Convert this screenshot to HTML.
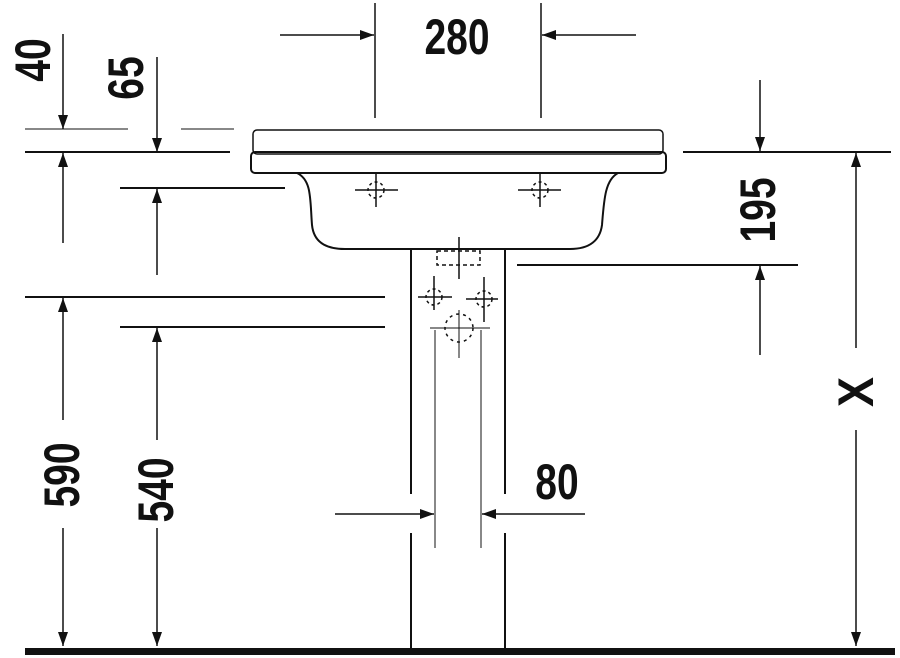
<!DOCTYPE html>
<html><head><style>body{margin:0;background:#fff}svg{display:block}
text{font-family:"Liberation Sans",sans-serif;font-weight:bold;font-size:50px;fill:#111}</style></head>
<body>
<svg width="900" height="658" viewBox="0 0 900 658" xmlns="http://www.w3.org/2000/svg">
<defs>
<marker id="a" markerWidth="14" markerHeight="10" refX="14" refY="5" orient="auto" markerUnits="userSpaceOnUse"><path d="M0,0 L14,5 L0,10 Z" fill="#111"/></marker>
</defs>
<g stroke="#111" fill="none" stroke-width="1.5">
<line x1="375" y1="3" x2="375" y2="118"/>
<line x1="541" y1="3" x2="541" y2="118"/>
<line x1="280" y1="35" x2="374" y2="35" marker-end="url(#a)"/>
<line x1="636" y1="35" x2="542" y2="35" marker-end="url(#a)"/>
<line x1="25" y1="129" x2="128" y2="129" stroke-width="1"/>
<line x1="181" y1="129" x2="234" y2="129" stroke-width="1"/>
<line x1="25" y1="152" x2="230" y2="152" stroke-width="2"/>
<line x1="63" y1="34" x2="63" y2="129" marker-end="url(#a)"/>
<line x1="63" y1="243" x2="63" y2="153" marker-end="url(#a)"/>
<line x1="157" y1="57" x2="157" y2="152" marker-end="url(#a)"/>
<line x1="120" y1="188" x2="285" y2="188" stroke-width="2"/>
<line x1="157" y1="275" x2="157" y2="189" marker-end="url(#a)"/>
<line x1="25" y1="297" x2="385" y2="297" stroke-width="2"/>
<line x1="120" y1="327" x2="385" y2="327" stroke-width="2"/>
<line x1="63" y1="420" x2="63" y2="298" marker-end="url(#a)"/>
<line x1="63" y1="528" x2="63" y2="646" marker-end="url(#a)"/>
<line x1="157" y1="440" x2="157" y2="328" marker-end="url(#a)"/>
<line x1="157" y1="528" x2="157" y2="646" marker-end="url(#a)"/>
<line x1="683" y1="152" x2="891" y2="152" stroke-width="2"/>
<line x1="760" y1="80" x2="760" y2="151" marker-end="url(#a)"/>
<line x1="517" y1="265" x2="798" y2="265" stroke-width="2"/>
<line x1="760" y1="355" x2="760" y2="266" marker-end="url(#a)"/>
<line x1="856" y1="348" x2="856" y2="153" marker-end="url(#a)"/>
<line x1="856" y1="430" x2="856" y2="646" marker-end="url(#a)"/>
<line x1="335" y1="514" x2="434" y2="514" marker-end="url(#a)"/>
<line x1="585" y1="514" x2="482" y2="514" marker-end="url(#a)"/>
<line x1="435" y1="330" x2="435" y2="548" stroke-width="1"/>
<line x1="481" y1="330" x2="481" y2="548" stroke-width="1"/>
<rect x="253" y="130" width="410" height="24" rx="4" stroke-width="1.5"/>
<rect x="251" y="152" width="415" height="21" rx="4" stroke-width="2"/>
<path d="M297,173 C312,180 310,200 312,225 C314,245 330,249 345,249 L570,249 C590,249 600,240 602,225 C604,200 605,180 618,173" stroke-width="2"/>
<line x1="411" y1="249" x2="411" y2="494" stroke-width="2"/>
<line x1="411" y1="533" x2="411" y2="650" stroke-width="2"/>
<line x1="505" y1="249" x2="505" y2="494" stroke-width="2"/>
<line x1="505" y1="533" x2="505" y2="650" stroke-width="2"/>
<g stroke-width="1.5">
<line x1="355" y1="190" x2="398" y2="190"/><line x1="376" y1="174" x2="376" y2="207"/>
<circle cx="376" cy="190" r="8" stroke-dasharray="3,3"/>
<line x1="518" y1="190" x2="561" y2="190"/><line x1="540" y1="172" x2="540" y2="207"/>
<circle cx="540" cy="190" r="8" stroke-dasharray="3,3"/>
<line x1="459" y1="237" x2="459" y2="279"/>
<rect x="437" y="251" width="43" height="14" stroke-dasharray="4,3"/>
<line x1="418" y1="297" x2="452" y2="297"/><line x1="434" y1="276" x2="434" y2="310"/>
<circle cx="434" cy="297" r="8" stroke-dasharray="3,3"/>
<line x1="466" y1="299" x2="498" y2="299"/><line x1="484" y1="277" x2="484" y2="322"/>
<circle cx="484" cy="299" r="8" stroke-dasharray="3,3"/>
<line x1="430" y1="328" x2="490" y2="328" stroke-width="1"/><line x1="459" y1="310" x2="459" y2="358" stroke-width="1"/>
<circle cx="459" cy="328" r="14" stroke-dasharray="3,4"/>
</g>
</g>
<rect x="25" y="648" width="870" height="7" fill="#111"/>
<text transform="translate(457,54) scale(0.78,1)" text-anchor="middle">280</text>
<text transform="translate(557,499) scale(0.78,1)" text-anchor="middle">80</text>
<text transform="translate(50,60) rotate(-90) scale(0.78,1)" text-anchor="middle">40</text>
<text transform="translate(143,78) rotate(-90) scale(0.78,1)" text-anchor="middle">65</text>
<text transform="translate(79,475) rotate(-90) scale(0.78,1)" text-anchor="middle">590</text>
<text transform="translate(173,490) rotate(-90) scale(0.78,1)" text-anchor="middle">540</text>
<text transform="translate(775,210) rotate(-90) scale(0.78,1)" text-anchor="middle">195</text>
<text transform="translate(873,392) rotate(-90) scale(0.9,1)" text-anchor="middle">X</text>
</svg>
</body></html>
